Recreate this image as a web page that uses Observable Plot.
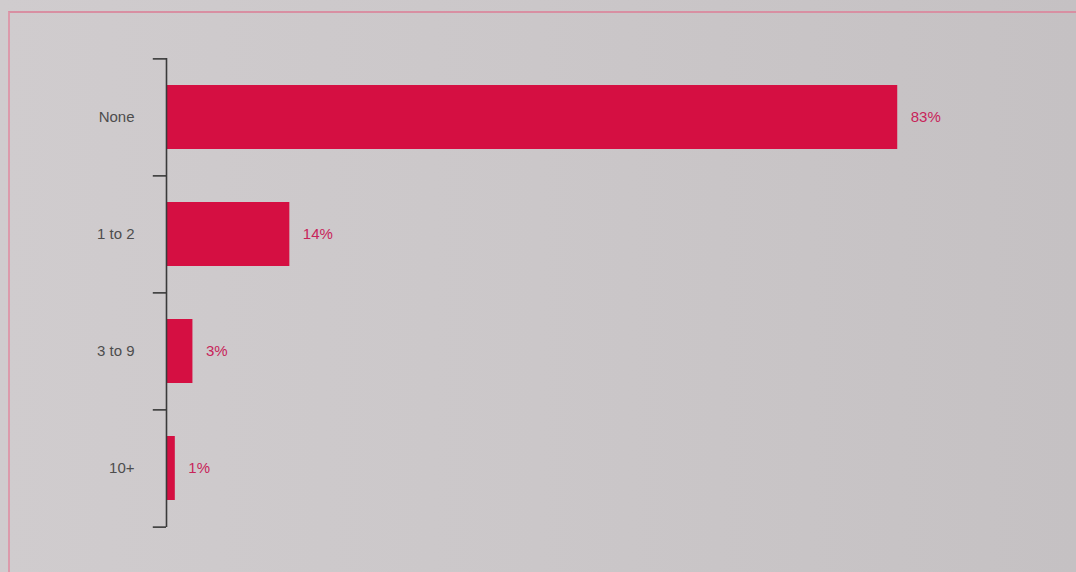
<!DOCTYPE html>
<html>
<head>
<meta charset="utf-8">
<script src="https://cdn.jsdelivr.net/npm/d3@7"></script>
<script src="https://cdn.jsdelivr.net/npm/@observablehq/plot@0.6"></script>
<style>
  html, body { margin: 0; padding: 0; }
  body {
    width: 1076px; height: 572px; overflow: hidden; position: relative;
    background: linear-gradient(90deg, #d0ccce 0%, #cbc7c9 50%, #c5c1c3 100%);
    font-family: "Liberation Sans", Arial, Helvetica, sans-serif;
  }
  #border {
    position: absolute; left: 8px; top: 11px; right: -10px; bottom: -10px;
    border-top: 2px solid #d88fa2; border-left: 2px solid #dc9aab;
    pointer-events: none;
  }
  #chart { position: absolute; left: 0; top: 0; }
  #chart svg { background: transparent; }
</style>
</head>
<body>
<div id="border"></div>
<div id="chart"></div>
<script>
const categories = ["None", "1 to 2", "3 to 9", "10+"];
const values = [83, 14, 3, 1];
const valueLabels = ["83%", "14%", "3%", "1%"];

const data = categories.map((c, i) => ({category: c, value: values[i], label: valueLabels[i]}));

const W = 1076, H = 572;
const mTop = 58, mBottom = 45, mLeft = 166, mRight = 29;
const step = (H - mTop - mBottom) / categories.length;
const barColor = "#d50f42";

const chart = Plot.plot({
  width: W,
  height: H,
  marginTop: mTop,
  marginBottom: mBottom,
  marginLeft: mLeft,
  marginRight: mRight,
  style: {background: "transparent", fontFamily: "'Liberation Sans', Arial, Helvetica, sans-serif"},
  x: {domain: [0, 100], axis: null},
  y: {domain: categories, paddingInner: 0.45, paddingOuter: 0.225, label: null},
  marks: [
    Plot.barX(data, {x: "value", y: "category", fill: barColor}),
    Plot.ruleX([0], {stroke: "#3a3a3a", strokeWidth: 1.6}),
    Plot.ruleY(categories, {y: d => d, x1: -1.5, x2: 0, dy: -step / 2, stroke: "#3a3a3a", strokeWidth: 1.6}),
    Plot.ruleY([categories[categories.length - 1]], {y: d => d, x1: -1.5, x2: 0, dy: step / 2, stroke: "#3a3a3a", strokeWidth: 1.6}),
    Plot.axisY({tickSize: 0, tickPadding: 32, fontSize: 15, color: "#4d4d4d", label: null}),
    Plot.text(data, {x: "value", y: "category", text: "label", dx: 13, textAnchor: "start", fill: "#c8245a", fontSize: 15})
  ]
});
document.getElementById("chart").appendChild(chart);
</script>
</body>
</html>
